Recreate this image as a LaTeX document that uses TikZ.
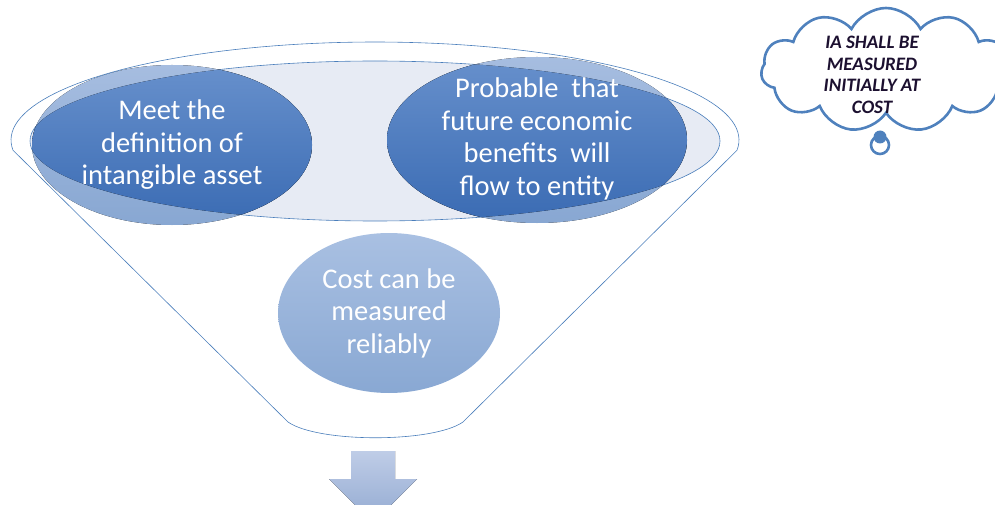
\documentclass[tikz,border=0pt]{standalone}
\usepackage{fontspec}
\setmainfont{Carlito}
\usetikzlibrary{shapes.geometric,shapes.symbols}
\definecolor{fline}{HTML}{4A7EBB}
\definecolor{rimfill}{HTML}{E7EBF4}
\definecolor{darktop}{HTML}{6790CC}
\definecolor{darkbot}{HTML}{3A6BB3}
\definecolor{lighttop}{HTML}{A6BDE0}
\definecolor{lightbot}{HTML}{88A7D2}
\definecolor{costtop}{HTML}{A9C0E2}
\definecolor{costbot}{HTML}{89A8D3}
\definecolor{arrtop}{HTML}{BFCDE7}
\definecolor{arrbot}{HTML}{92A9D1}
\definecolor{cloudc}{HTML}{4F81BD}
\definecolor{cloudtxt}{HTML}{1C1030}
\begin{document}
\begin{tikzpicture}[x=1pt,y=-1pt,
  funnelline/.style={draw=fline,line width=0.6pt},
  lightell/.style={top color=lighttop,bottom color=lightbot},
  darkell/.style={top color=darktop,bottom color=darkbot},
  eltext/.style={ellipse,inner sep=0pt,align=center,text=white,
    font=\fontsize{28.5}{32.5}\selectfont},
  cloudline/.style={draw=cloudc,line width=2.6pt}]
\useasboundingbox (0,0) rectangle (995,505);
% rim of funnel
\path[fill=rimfill,funnelline] (375,141) ellipse [x radius=345,y radius=80];
% light parts of the two top ellipses
\fill[lightell] (172,145) ellipse [x radius=140,y radius=80];
\fill[lightell] (537,140) ellipse [x radius=150,y radius=83];
% dark parts inside the rim
\begin{scope}
  \clip (375,141) ellipse [x radius=345,y radius=80];
  \fill[darkell] (172,145) ellipse [x radius=140,y radius=80];
  \fill[darkell] (537,140) ellipse [x radius=150,y radius=83];
\end{scope}
\node[eltext,minimum width=280pt,minimum height=160pt] (def) at (172,145)
  {Meet the\\definition of\\intangible asset};
\node[eltext,minimum width=300pt,minimum height=166pt] (prob) at (537,139)
  {Probable\ \ that\\future economic\\benefits\ \ will\\flow to entity};
\node[eltext,minimum width=222pt,minimum height=160pt,
  top color=costtop,bottom color=costbot] (cost) at (389,313)
  {Cost can be\\measured\\reliably};
% funnel outline
\draw[funnelline] plot[domain=-6:186,samples=90] ({375+364*cos(\x)},{140-98*sin(\x)})
  -- (288,422) .. controls (318,443) and (433,443) .. (463,422) -- cycle;
% block arrow
\fill[top color=arrtop,bottom color=arrbot]
  (351,451) -- (395,451) -- (395,479) -- (417,479) -- (373,523)
  -- (329,479) -- (351,479) -- cycle;
% cloud callout
\node[cloud,cloud puffs=11,cloud puff arc=125,aspect=2,cloudline,fill=white,
  minimum width=250pt,minimum height=124pt,inner sep=0pt] (cloud) at (886,70) {};
\node[circle,fill=cloudc,minimum size=13pt,inner sep=0pt] (blob) at (880,137) {};
\node[circle,cloudline,minimum size=18pt,inner sep=0pt] (bub) at (880,145) {};
\node[align=center,text=cloudtxt,font=\bfseries\itshape\fontsize{19}{21.5}\selectfont]
  (ia) at (872,75) {IA SHALL BE\\MEASURED\\INITIALLY AT\\COST};
\end{tikzpicture}
\end{document}
